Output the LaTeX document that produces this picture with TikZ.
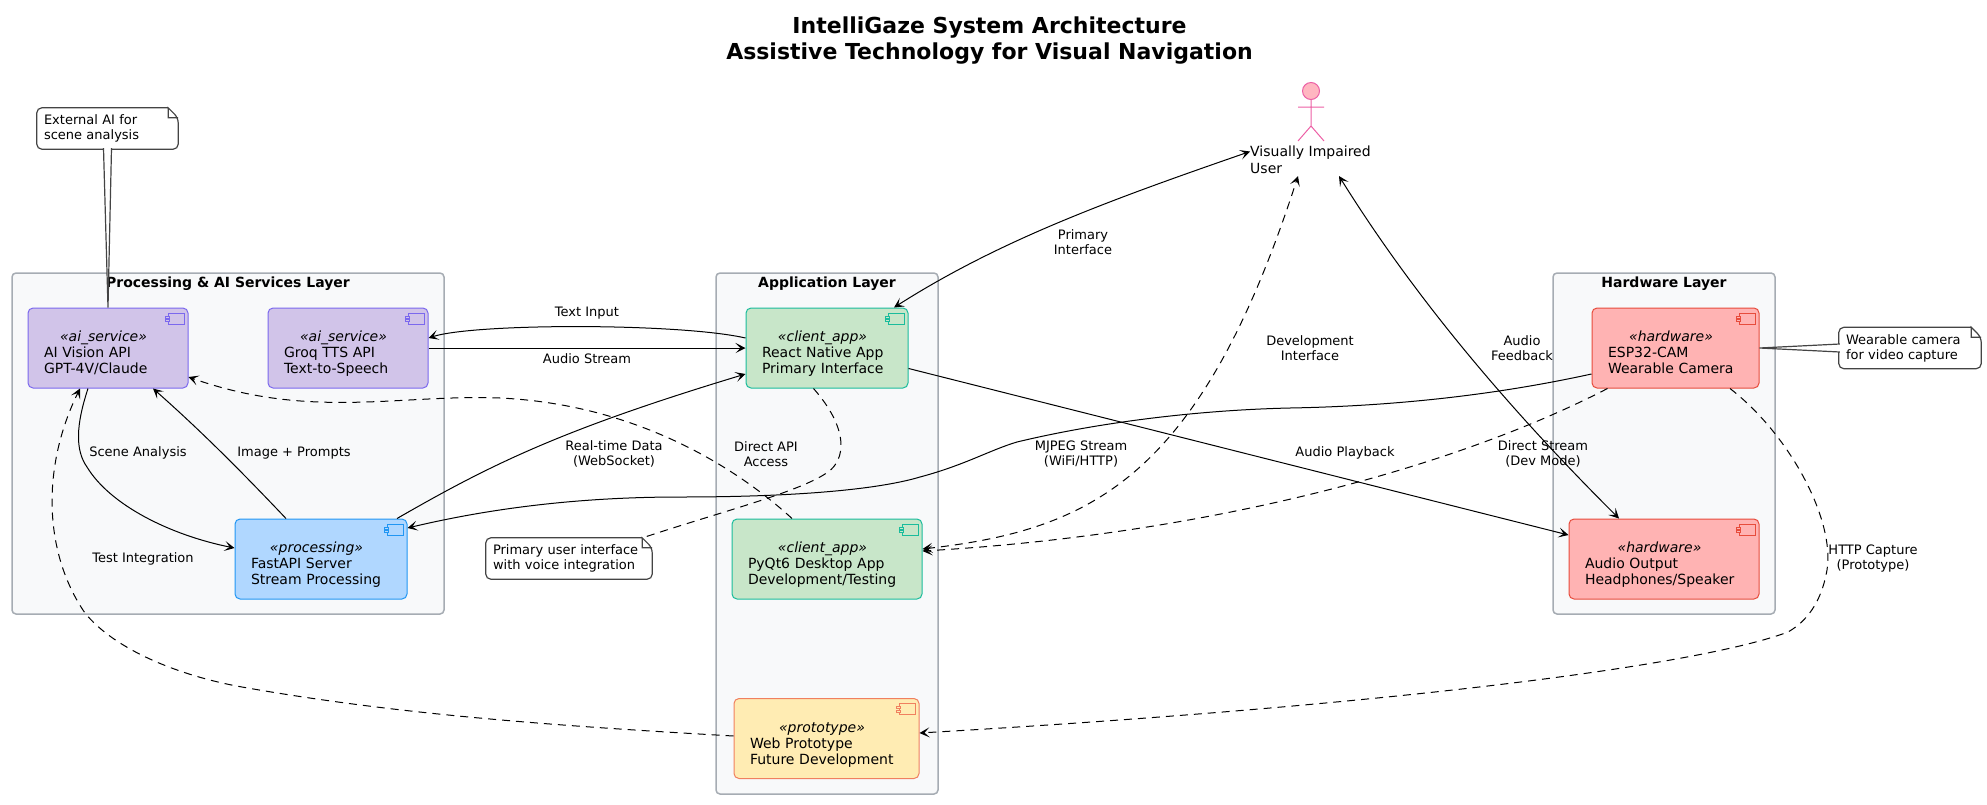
\documentclass[tikz,border=0pt]{standalone}
\usepackage{fontspec}
\setmainfont{DejaVu Sans}
\usetikzlibrary{arrows.meta}

\definecolor{layerfill}{HTML}{F8F9FA}
\definecolor{layerline}{HTML}{A6ACB3}
\definecolor{aifill}{HTML}{D1C4E9}
\definecolor{ailine}{HTML}{7B68EE}
\definecolor{appfill}{HTML}{C8E6C9}
\definecolor{appline}{HTML}{1ABC9C}
\definecolor{procfill}{HTML}{B0D7FF}
\definecolor{procline}{HTML}{2196F3}
\definecolor{hwfill}{HTML}{FFB3B3}
\definecolor{hwline}{HTML}{E74C3C}
\definecolor{protofill}{HTML}{FFECB3}
\definecolor{protoline}{HTML}{F0805F}
\definecolor{actorfill}{HTML}{FFB6C1}
\definecolor{actorline}{HTML}{EC5FA5}
\definecolor{noteline}{HTML}{444444}

% little component symbol, top right of every box
\newcommand\compicon[2]{
	\draw[#1, sharp corners, line width=1pt] ([xshift=-4pt,yshift=-5pt]path picture bounding box.north east) rectangle ++(-16,11);
	\draw[#1, sharp corners, fill=#2, line width=1pt] ([xshift=-18.5pt,yshift=-8pt]path picture bounding box.north east) rectangle ++(-4,2);
	\draw[#1, sharp corners, fill=#2, line width=1pt] ([xshift=-18.5pt,yshift=-11.5pt]path picture bounding box.north east) rectangle ++(-4,2);
}
\newcommand\comptext[3]{\rule{0pt}{22pt}\makebox[\dimexpr\linewidth-9pt][c]{\textit{«#1»}}\\#2\\#3\rule[-3pt]{0pt}{3pt}}
% frame of a note, with its folded corner
\newcommand\notefold[1]{
	\fill[white] ([xshift=-10pt]#1.north east) -- ([xshift=1pt,yshift=1pt]#1.north east) -- ([yshift=-10pt]#1.north east) -- cycle;
	\draw[notepen] ([xshift=-10pt]#1.north east) [rounded corners=5pt] -- (#1.north west) -- (#1.south west) -- (#1.south east) -- ([yshift=-10pt]#1.north east) [sharp corners] -- ([xshift=-10pt]#1.north east) -- ++(0,10) -- ([yshift=-10pt]#1.north east);
}

\tikzset{
	compbox/.style 2 args={draw=#1, fill=#2, line width=1pt, rounded corners=5pt, minimum height=80pt,
		inner xsep=16pt, inner ysep=0pt, align=left, font=\fontsize{14}{16}\selectfont,
		path picture={\compicon{#1}{#2}}},
	aibox/.style={compbox={ailine}{aifill}},
	appbox/.style={compbox={appline}{appfill}},
	procbox/.style={compbox={procline}{procfill}},
	hwbox/.style={compbox={hwline}{hwfill}},
	protobox/.style={compbox={protoline}{protofill}},
	layerbox/.style={draw=layerline, fill=layerfill, line width=1.5pt, rounded corners=4pt},
	layertitle/.style={font=\fontsize{14}{16}\selectfont\bfseries, inner sep=0pt},
	notepen/.style={draw=noteline, line width=1.2pt},
	notebox/.style={fill=white, rounded corners=5pt, inner xsep=7pt, inner ysep=0pt, minimum height=41pt,
		align=left, font=\fontsize{13}{15}\selectfont},
	edgelabel/.style={align=center, inner sep=0pt, font=\fontsize{13}{15}\selectfont},
	flow/.style={line width=1pt, black},
	flowdash/.style={flow, dash pattern=on 8pt off 6pt},
	actorpen/.style={draw=actorline, line width=1pt},
	>={Stealth[length=10pt,width=10pt,inset=5pt]},
}

\begin{document}
\begin{tikzpicture}[x=1pt,y=-1pt]
\useasboundingbox (0,0) rectangle (1987,804);

\node[align=center, inner sep=0pt, font=\fontsize{22}{26}\selectfont\bfseries] (title) at (989.5,40.5)
	{IntelliGaze System Architecture\\Assistive Technology for Visual Navigation};

% layers
\node[layerbox, minimum width=432pt, minimum height=341pt] (proclayer) at (228,443.5) {};
\node[layerbox, minimum width=222pt, minimum height=521pt] (applayer) at (827,533.5) {};
\node[layerbox, minimum width=222pt, minimum height=341pt] (hwlayer) at (1664,443.5) {};
\node[layertitle, yshift=-11pt] (proctitle) at (proclayer.north) {Processing \& AI Services Layer};
\node[layertitle, yshift=-11pt] (apptitle) at (applayer.north) {Application Layer};
\node[layertitle, yshift=-11pt] (hwtitle) at (hwlayer.north) {Hardware Layer};

% components
\node[aibox, text width=128pt] (aivision) at (108,348) {\comptext{ai\_service}{AI Vision API}{GPT-4V/Claude}};
\node[aibox, text width=128pt] (groq) at (348,348) {\comptext{ai\_service}{Groq TTS API}{Text-to-Speech}};
\node[procbox, text width=140pt] (fastapi) at (321,559) {\comptext{processing}{FastAPI Server}{Stream Processing}};
\node[appbox, text width=130pt] (react) at (827,348) {\comptext{client\_app}{React Native App}{Primary Interface}};
\node[appbox, text width=158pt] (pyqt) at (827,559) {\comptext{client\_app}{PyQt6 Desktop App}{Development/Testing}};
\node[protobox, text width=153pt] (webproto) at (826.5,738.5) {\comptext{prototype}{Web Prototype}{Future Development}};
\node[hwbox, text width=135pt] (esp) at (1675.5,348) {\comptext{hardware}{ESP32-CAM}{Wearable Camera}};
\node[hwbox, text width=158pt] (audio) at (1664,559) {\comptext{hardware}{Audio Output}{Headphones/Speaker}};

% the user
\draw[actorpen, fill=actorfill] (1311,91) circle (8.5);
\draw[actorpen] (1311,99.5) -- (1311,126) (1298,107) -- (1324,107) (1298,141) -- (1311,126) -- (1324,141);
\node[align=left, inner sep=0pt, anchor=west, font=\fontsize{14}{17}\selectfont] (user) at (1250,159.5) {Visually Impaired\\User};

% connectors
\draw[flow,<->] ([xshift=67pt]react.north) .. controls (1000,240) and (1110,200) .. ([yshift=8pt]user.west);
\draw[flow,->] ([yshift=10pt]react.west) .. controls (680,323) and (475,323) .. ([yshift=10pt]groq.east);
\draw[flow,->] (groq.east) -- (react.west);
\draw[flow,->] ([xshift=76pt]fastapi.north) .. controls (490,465) and (560,430) .. ([yshift=-26pt]react.west);
\draw[flow,->] ([yshift=-26pt]esp.west) .. controls (1500,394) and (1400,406) .. (1290,408)
	.. controls (1200,410) and (1100,422) .. (1017,442)
	.. controls (990,450) and (965,465) .. (920,477)
	.. controls (880,489) and (800,497) .. (680,497)
	.. controls (590,497) and (500,506) .. ([yshift=31pt]fastapi.east);
\draw[flow,->] (react) -- (audio);
\draw[flow,<->] ([xshift=-45pt]audio.north) .. controls (1500,400) and (1410,290) .. (1339,176);
\draw[flow,->] ([xshift=-35pt]fastapi.north) .. controls (240,470) and (200,430) .. ([xshift=45pt]aivision.south);
\draw[flow,->] ([xshift=-20pt]aivision.south) .. controls (76,425) and (75,450) .. (87,467)
	.. controls (110,505) and (170,535) .. ([yshift=11pt]fastapi.west);

\draw[flowdash,->] ([xshift=-35pt]pyqt.north) .. controls (750,480) and (650,405) .. (500,398)
	.. controls (400,394) and (310,420) .. ([yshift=-29pt]aivision.east);
\draw[flowdash,->] ([xshift=-68pt]esp.south) .. controls (1450,470) and (1200,535) .. ([yshift=8pt]pyqt.east);
\draw[flowdash,<->] ([yshift=10pt]pyqt.east) .. controls (1090,530) and (1200,480) .. (1298,176);
\draw[flowdash,->] ([yshift=2.5pt]webproto.west) .. controls (560,726) and (400,715) .. (242,687)
	.. controls (180,676) and (115,650) .. (85,613)
	.. controls (45,555) and (40,470) .. ([xshift=-28pt]aivision.south);
\draw[flowdash,->] ([xshift=54.5pt]esp.south) .. controls (1790,435) and (1835,520) .. (1827,570)
	.. controls (1820,610) and (1800,625) .. (1788,632)
	.. controls (1700,665) and (1400,705) .. ([yshift=5.5pt]webproto.east);

% edge labels
\node[edgelabel] (lbltext) at (587,313) {Text Input};
\node[edgelabel] (lblaudio) at (587,359) {Audio Stream};
\node[edgelabel] (lblprimary) at (1083,242) {Primary\\Interface};
\node[edgelabel] (lblscene) at (138,453) {Scene Analysis};
\node[edgelabel] (lblimage) at (294,453) {Image + Prompts};
\node[edgelabel] (lbltest) at (143,559) {Test Integration};
\node[edgelabel] (lblrealtime) at (614,454) {Real-time Data\\(WebSocket)};
\node[edgelabel] (lbldirectapi) at (766,454) {Direct API\\Access};
\node[edgelabel] (lblmjpeg) at (1081,454) {MJPEG Stream\\(WiFi/HTTP)};
\node[edgelabel] (lblplayback) at (1345,453) {Audio Playback};
\node[edgelabel] (lbldirect) at (1543,454) {Direct Stream\\(Dev Mode)};
\node[edgelabel] (lbldev) at (1310,348) {Development\\Interface};
\node[edgelabel] (lblfeedback) at (1522,348) {Audio\\Feedback};
\node[edgelabel] (lblhttp) at (1873,559) {HTTP Capture\\(Prototype)};

% notes
\node[notebox, text width=127pt] (extnote) at (107.5,128.5) {External AI for\\scene analysis};
\notefold{extnote}
\draw[notepen, fill=white] ([xshift=-4pt,yshift=1pt]extnote.south) -- (aivision.north) -- ([xshift=4pt,yshift=1pt]extnote.south);

\node[notebox, text width=128pt] (wearnote) at (1910,348) {Wearable camera\\for video capture};
\notefold{wearnote}
\draw[notepen, fill=white] ([xshift=1pt,yshift=-4pt]wearnote.west) -- (esp.east) -- ([xshift=1pt,yshift=4pt]wearnote.west);

\draw[flowdash] ([xshift=-13.5pt]react.south) .. controls (850,430) and (845,460) .. (828,472)
	.. controls (800,492) and (720,512) .. (642,538);
\node[notebox, text width=152pt] (uinote) at (569,558.5) {Primary user interface\\with voice integration};
\notefold{uinote}
\end{tikzpicture}
\end{document}
